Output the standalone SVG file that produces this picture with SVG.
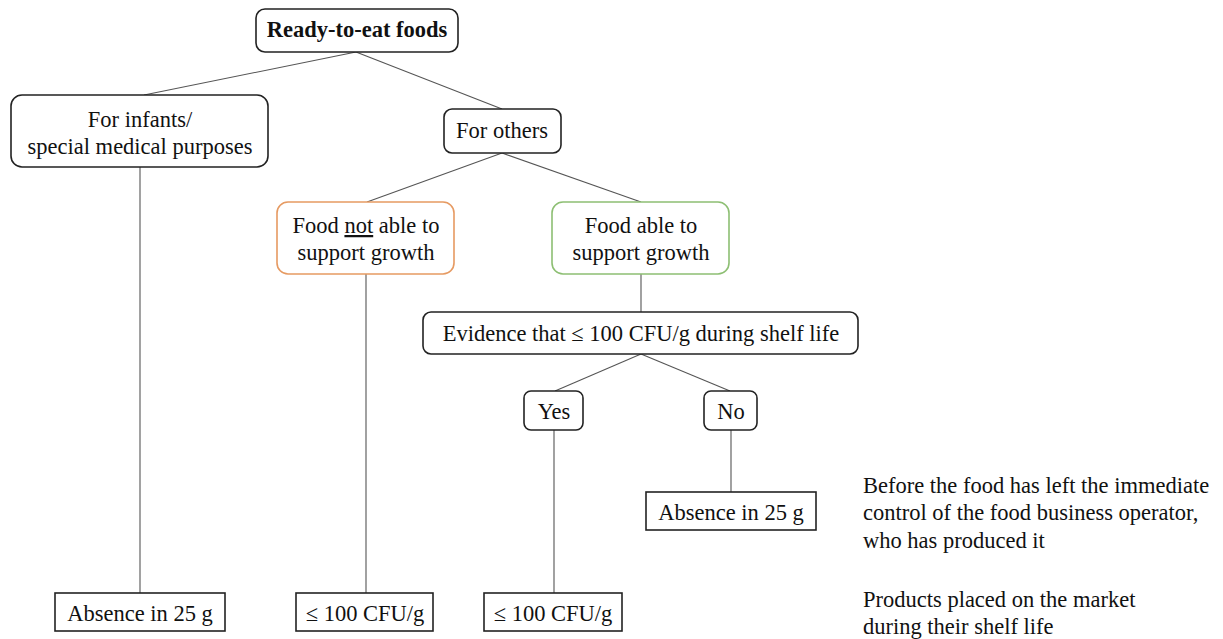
<svg xmlns="http://www.w3.org/2000/svg" width="1223" height="639" viewBox="0 0 1223 639">
<style>
text{font-family:"Liberation Serif","Times New Roman",serif;font-size:22.5px;fill:#111}
.c{text-anchor:middle}
.b{font-weight:bold}
.box{fill:#fff;stroke:#222;stroke-width:1.6}
.org{fill:#fff;stroke:#E69A62;stroke-width:1.6}
.grn{fill:#fff;stroke:#8DBF73;stroke-width:1.6}
.sq{fill:#fff;stroke:#222;stroke-width:1.6}
.con line{stroke:#555;stroke-width:1.1}
</style>
<rect width="1223" height="639" fill="#fff"/>
<g class="con" id="connectors">
<line x1="356" y1="52" x2="144" y2="95"/>
<line x1="356" y1="52" x2="502" y2="109"/>
<line x1="140" y1="167" x2="140" y2="593"/>
<line x1="502" y1="153" x2="367" y2="202"/>
<line x1="502" y1="153" x2="641" y2="202"/>
<line x1="366" y1="274" x2="366" y2="593"/>
<line x1="641" y1="274" x2="641" y2="312"/>
<line x1="641" y1="354" x2="555" y2="391"/>
<line x1="641" y1="354" x2="730" y2="391"/>
<line x1="554" y1="430" x2="554" y2="593"/>
<line x1="731" y1="430" x2="731" y2="492"/>
</g>
<g id="root"><rect class="box" x="256" y="9" width="202" height="43" rx="9"/><text class="c b" x="357" y="37">Ready-to-eat foods</text></g>
<g id="infants"><rect class="box" x="11" y="95" width="257" height="72" rx="11"/><text class="c" x="140" y="127">For infants/</text><text class="c" x="140" y="154">special medical purposes</text></g>
<g id="others"><rect class="box" x="444" y="109" width="117" height="44" rx="8"/><text class="c" x="502" y="138">For others</text></g>
<g id="notgrowth"><rect class="org" x="277" y="202" width="177" height="72" rx="11"/><text class="c" x="366" y="233">Food <tspan text-decoration="underline">not</tspan> able to</text><text class="c" x="366" y="260">support growth</text></g>
<g id="growth"><rect class="grn" x="552" y="202" width="177" height="72" rx="11"/><text class="c" x="641" y="233">Food able to</text><text class="c" x="641" y="260">support growth</text></g>
<g id="evidence"><rect class="box" x="423" y="312" width="435" height="42" rx="8"/><text class="c" x="641" y="341">Evidence that ≤ 100 CFU/g during shelf life</text></g>
<g id="yes"><rect class="box" x="524" y="391" width="59" height="39" rx="7"/><text class="c" x="554" y="419">Yes</text></g>
<g id="no"><rect class="box" x="704" y="391" width="53" height="39" rx="7"/><text class="c" x="731" y="419">No</text></g>
<g id="absNo"><rect class="sq" x="646" y="492" width="170" height="38"/><text class="c" x="731" y="520">Absence in 25 g</text></g>
<g id="abs1"><rect class="sq" x="55" y="593" width="170" height="38"/><text class="c" x="140" y="621">Absence in 25 g</text></g>
<g id="cfu1"><rect class="sq" x="296" y="593" width="137" height="38"/><text class="c" x="365" y="621">≤ 100 CFU/g</text></g>
<g id="cfu2"><rect class="sq" x="484" y="593" width="138" height="38"/><text class="c" x="553" y="621">≤ 100 CFU/g</text></g>
<g id="note1"><text x="863" y="493">Before the food has left the immediate</text><text x="863" y="520">control of the food business operator,</text><text x="863" y="548">who has produced it</text></g>
<g id="note2"><text x="863" y="607">Products placed on the market</text><text x="863" y="634">during their shelf life</text></g>
</svg>
